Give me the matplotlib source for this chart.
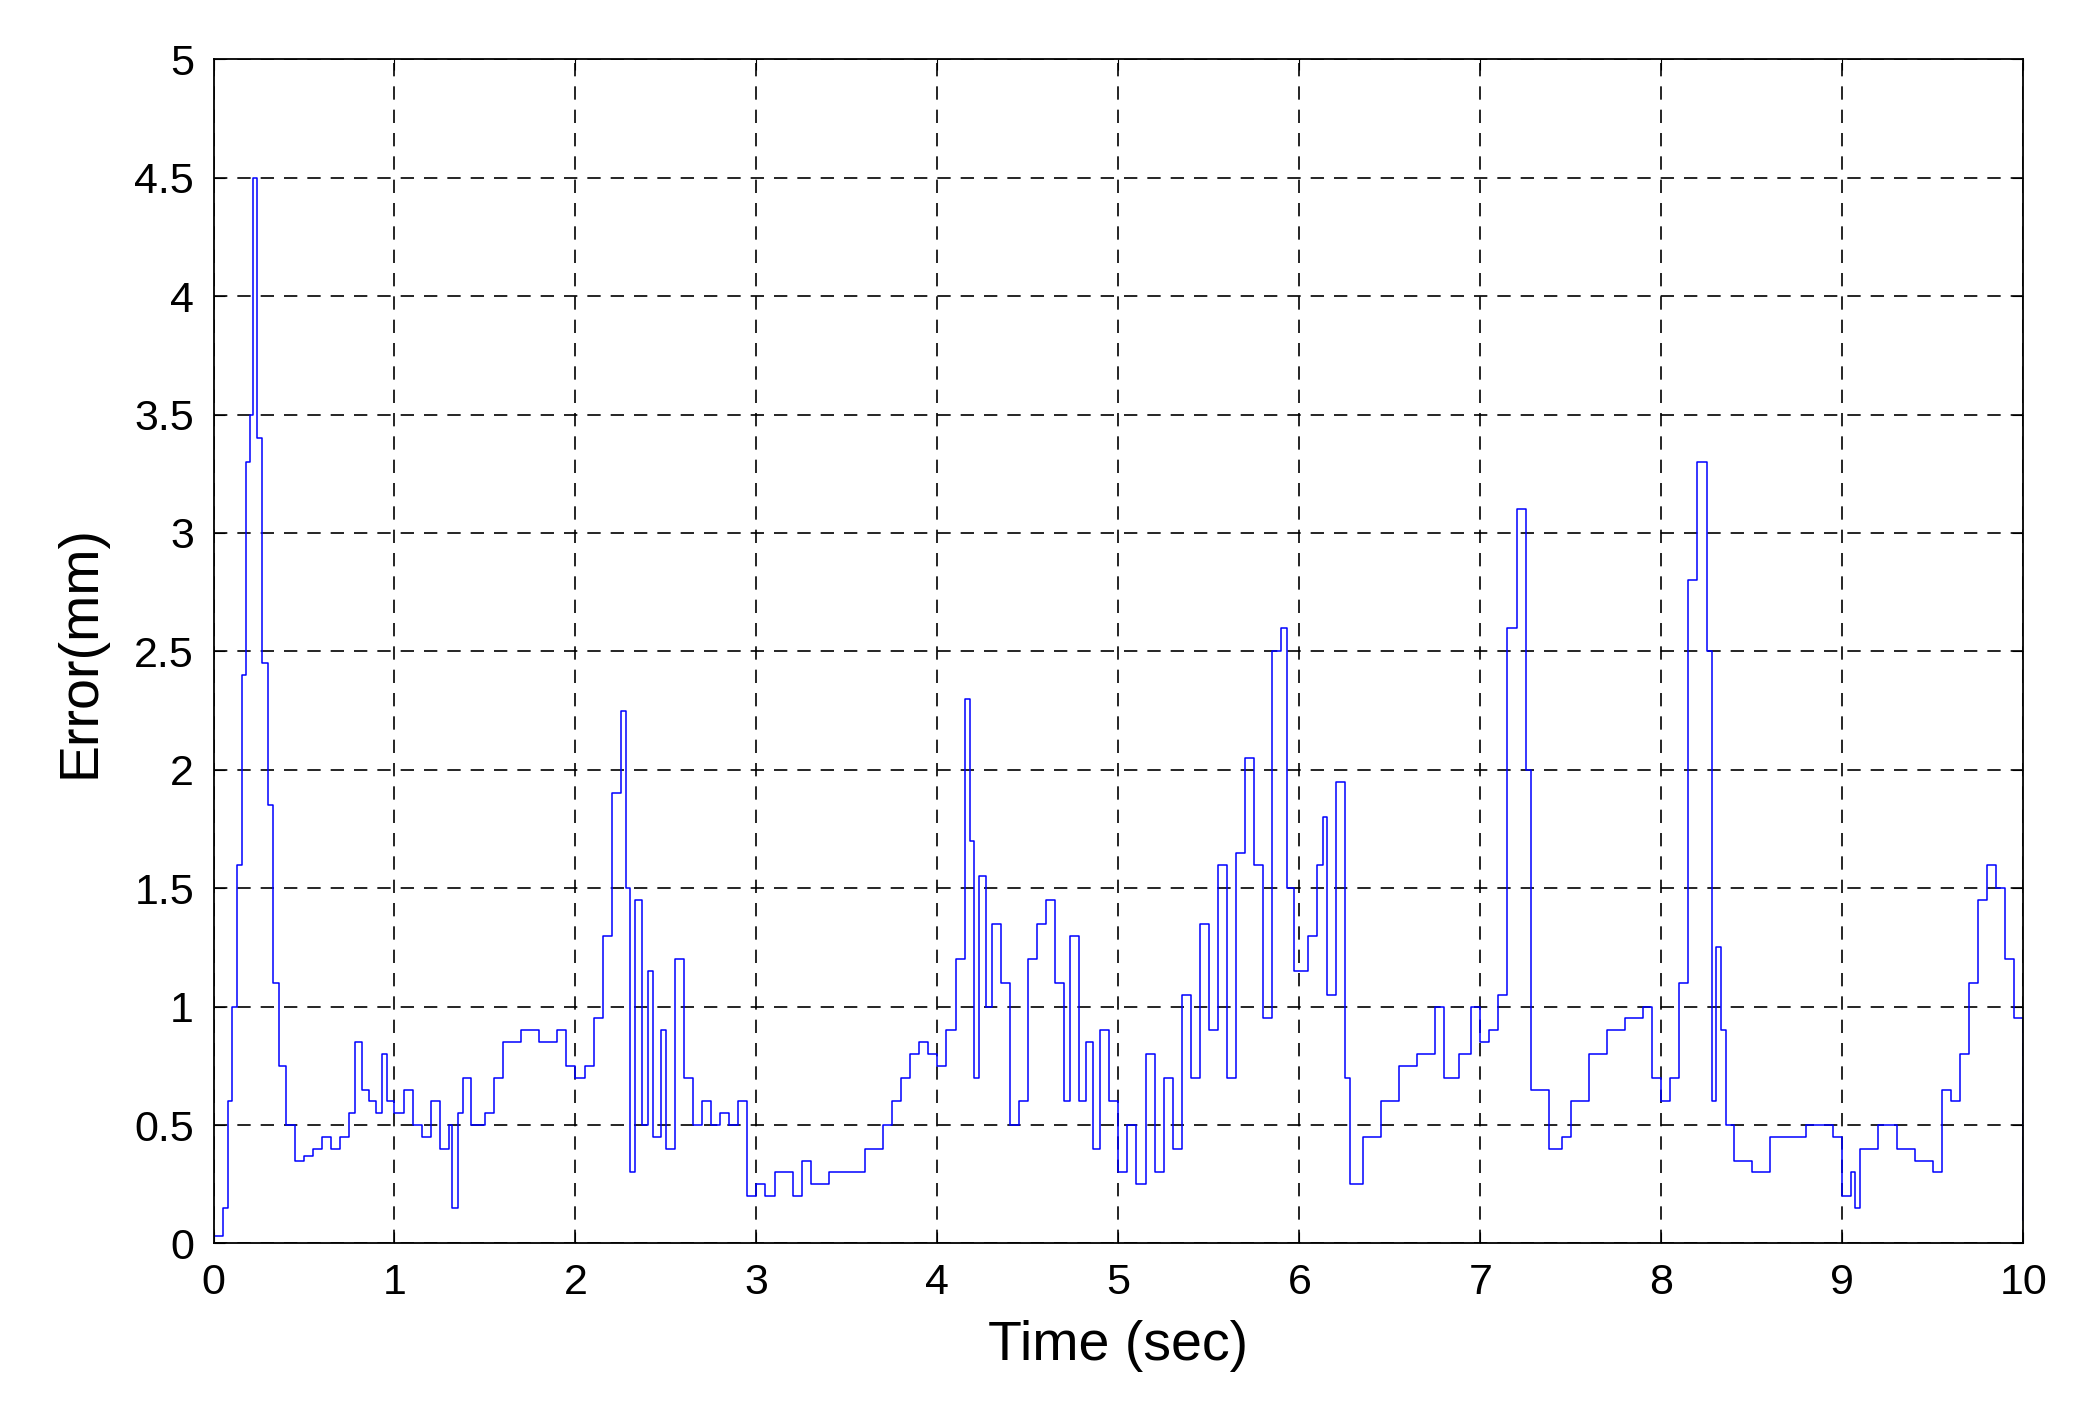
import numpy as np
import matplotlib.pyplot as plt

t = [0, 0.05, 0.08, 0.1, 0.13, 0.16, 0.18, 0.2, 0.22, 0.24, 0.27, 0.3, 0.33, 0.36, 0.4, 0.45,
     0.5, 0.55, 0.6, 0.65, 0.7, 0.75, 0.78, 0.82, 0.86, 0.9, 0.93, 0.96, 1.0, 1.05, 1.1, 1.15,
     1.2, 1.25, 1.3, 1.32, 1.35, 1.38, 1.42, 1.5, 1.55, 1.6, 1.7, 1.8, 1.9, 1.95, 2.0, 2.05,
     2.1, 2.15, 2.2, 2.25, 2.28, 2.3, 2.33, 2.37, 2.4, 2.43, 2.47, 2.5, 2.55, 2.6, 2.65, 2.7,
     2.75, 2.8, 2.85, 2.9, 2.95, 3.0, 3.05, 3.1, 3.2, 3.25, 3.3, 3.4, 3.5, 3.6, 3.7, 3.75,
     3.8, 3.85, 3.9, 3.95, 4.0, 4.05, 4.1, 4.15, 4.18, 4.2, 4.23, 4.27, 4.3, 4.35, 4.4, 4.45,
     4.5, 4.55, 4.6, 4.65, 4.7, 4.73, 4.78, 4.82, 4.86, 4.9, 4.95, 5.0, 5.05, 5.1, 5.15, 5.2,
     5.25, 5.3, 5.35, 5.4, 5.45, 5.5, 5.55, 5.6, 5.65, 5.7, 5.75, 5.8, 5.85, 5.9, 5.93, 5.97,
     6.05, 6.1, 6.13, 6.15, 6.2, 6.25, 6.28, 6.35, 6.45, 6.55, 6.65, 6.75, 6.8, 6.88, 6.95, 7.0,
     7.05, 7.1, 7.15, 7.2, 7.25, 7.28, 7.35, 7.38, 7.45, 7.5, 7.6, 7.7, 7.8, 7.9, 7.95, 8.0,
     8.05, 8.1, 8.15, 8.2, 8.25, 8.28, 8.3, 8.33, 8.36, 8.4, 8.5, 8.6, 8.7, 8.8, 8.9, 8.95,
     9.0, 9.05, 9.07, 9.1, 9.2, 9.3, 9.4, 9.5, 9.55, 9.6, 9.65, 9.7, 9.75, 9.8, 9.85, 9.9,
     9.95, 10.0]
err = [0.03, 0.15, 0.6, 1.0, 1.6, 2.4, 3.3, 3.5, 4.5, 3.4, 2.45, 1.85, 1.1, 0.75, 0.5, 0.35,
       0.37, 0.4, 0.45, 0.4, 0.45, 0.55, 0.85, 0.65, 0.6, 0.55, 0.8, 0.6, 0.55, 0.65, 0.5, 0.45,
       0.6, 0.4, 0.5, 0.15, 0.55, 0.7, 0.5, 0.55, 0.7, 0.85, 0.9, 0.85, 0.9, 0.75, 0.7, 0.75,
       0.95, 1.3, 1.9, 2.25, 1.5, 0.3, 1.45, 0.5, 1.15, 0.45, 0.9, 0.4, 1.2, 0.7, 0.5, 0.6,
       0.5, 0.55, 0.5, 0.6, 0.2, 0.25, 0.2, 0.3, 0.2, 0.35, 0.25, 0.3, 0.3, 0.4, 0.5, 0.6,
       0.7, 0.8, 0.85, 0.8, 0.75, 0.9, 1.2, 2.3, 1.7, 0.7, 1.55, 1.0, 1.35, 1.1, 0.5, 0.6,
       1.2, 1.35, 1.45, 1.1, 0.6, 1.3, 0.6, 0.85, 0.4, 0.9, 0.6, 0.3, 0.5, 0.25, 0.8, 0.3,
       0.7, 0.4, 1.05, 0.7, 1.35, 0.9, 1.6, 0.7, 1.65, 2.05, 1.6, 0.95, 2.5, 2.6, 1.5, 1.15,
       1.3, 1.6, 1.8, 1.05, 1.95, 0.7, 0.25, 0.45, 0.6, 0.75, 0.8, 1.0, 0.7, 0.8, 1.0, 0.85,
       0.9, 1.05, 2.6, 3.1, 2.0, 0.65, 0.65, 0.4, 0.45, 0.6, 0.8, 0.9, 0.95, 1.0, 0.7, 0.6,
       0.7, 1.1, 2.8, 3.3, 2.5, 0.6, 1.25, 0.9, 0.5, 0.35, 0.3, 0.45, 0.45, 0.5, 0.5, 0.45,
       0.2, 0.3, 0.15, 0.4, 0.5, 0.4, 0.35, 0.3, 0.65, 0.6, 0.8, 1.1, 1.45, 1.6, 1.5, 1.2,
       0.95, 0.1]

plt.rcParams['font.family'] = ['Liberation Sans', 'DejaVu Sans']

fig = plt.figure(figsize=(20.73, 14.13), dpi=100)
ax = fig.add_axes([0.103, 0.12, 0.873, 0.838])
ax.step(t, err, where='post', color='#0000ff', linewidth=1.1)
ax.set_xlim(0, 10)
ax.set_ylim(0, 5)
ax.set_xticks(np.arange(0, 11, 1))
ax.set_yticks(np.arange(0, 5.01, 0.5))
ax.set_yticklabels(['0', '0.5', '1', '1.5', '2', '2.5', '3', '3.5', '4', '4.5', '5'])
ax.grid(True, color='black', linestyle=(0, (8, 6)), linewidth=1.2)
ax.tick_params(direction='in', labelsize=31, length=8, top=True, right=True, pad=14)
for s in ax.spines.values():
    s.set_linewidth(1.3)
ax.set_xlabel('Time (sec)', fontsize=40, labelpad=12)
ax.set_ylabel('Error(mm)', fontsize=40, labelpad=20)

fig.savefig('out.png', dpi=100)
